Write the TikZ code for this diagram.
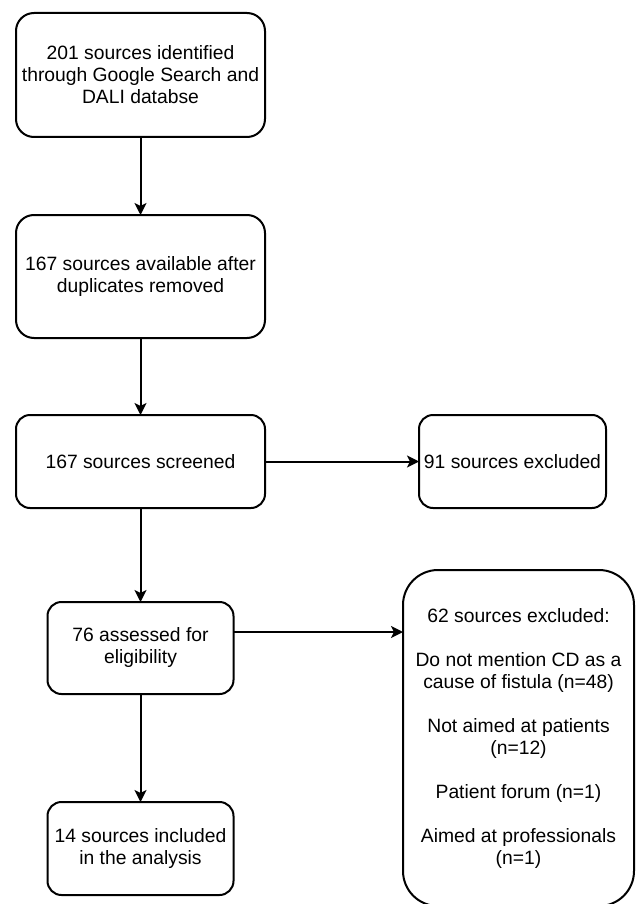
\documentclass[tikz,border=0pt]{standalone}
\usepackage{fontspec}
\setmainfont{Liberation Sans}
\usetikzlibrary{arrows.meta, positioning}
\tikzset{flowbox/.style={draw, rounded corners=#1, line width=2pt, outer sep=0pt, inner sep=0pt, align=center},
  flowbox/.default=14pt}

\begin{document}
\begin{tikzpicture}[>={Stealth[length=12pt, width=12pt, inset=3pt]}, line width=2pt, font=\fontsize{19.3}{22}\selectfont]
\useasboundingbox[fill=white] (0pt,0pt) rectangle (635pt,-904pt);
\node[flowbox=18pt, minimum width=249pt, minimum height=124pt] (ident) at (140.5pt,-75pt) {201 sources identified\\through Google Search and\\DALI databse};
\node[flowbox=18pt, minimum width=249pt, minimum height=123pt, below=78pt of ident] (avail) {167 sources available after\\duplicates removed};
\node[flowbox, minimum width=249pt, minimum height=93pt, below=77pt of avail] (screen) {167 sources screened};
\node[flowbox, minimum width=187pt, minimum height=93pt, right=154pt of screen] (excl) {91 sources excluded};
\node[flowbox, minimum width=186pt, minimum height=92pt, below=94pt of screen] (assess) {76 assessed for\\eligibility};
\node[flowbox, minimum width=186pt, minimum height=93pt, below=108pt of assess] (incl) {14 sources included\\in the analysis};
\node[flowbox=35pt, minimum width=231pt, minimum height=336pt, right=169.5pt of assess.north east, anchor=north west, yshift=32pt] (exclr) {62 sources excluded:\\[22pt]Do not mention CD as a\\cause of fistula (n=48)\\[22pt]Not aimed at patients\\(n=12)\\[22pt]Patient forum (n=1)\\[22pt]Aimed at professionals\\(n=1)};
\coordinate (branch) at ([yshift=16pt]assess.east);
\draw[->] (ident) -- (avail);
\draw[->] (avail) -- (screen);
\draw[->] (screen) -- (excl);
\draw[->] (screen) -- (assess);
\draw[->] (assess) -- (incl);
\draw[->] (branch) -- (branch -| exclr.west);
\end{tikzpicture}
\end{document}
